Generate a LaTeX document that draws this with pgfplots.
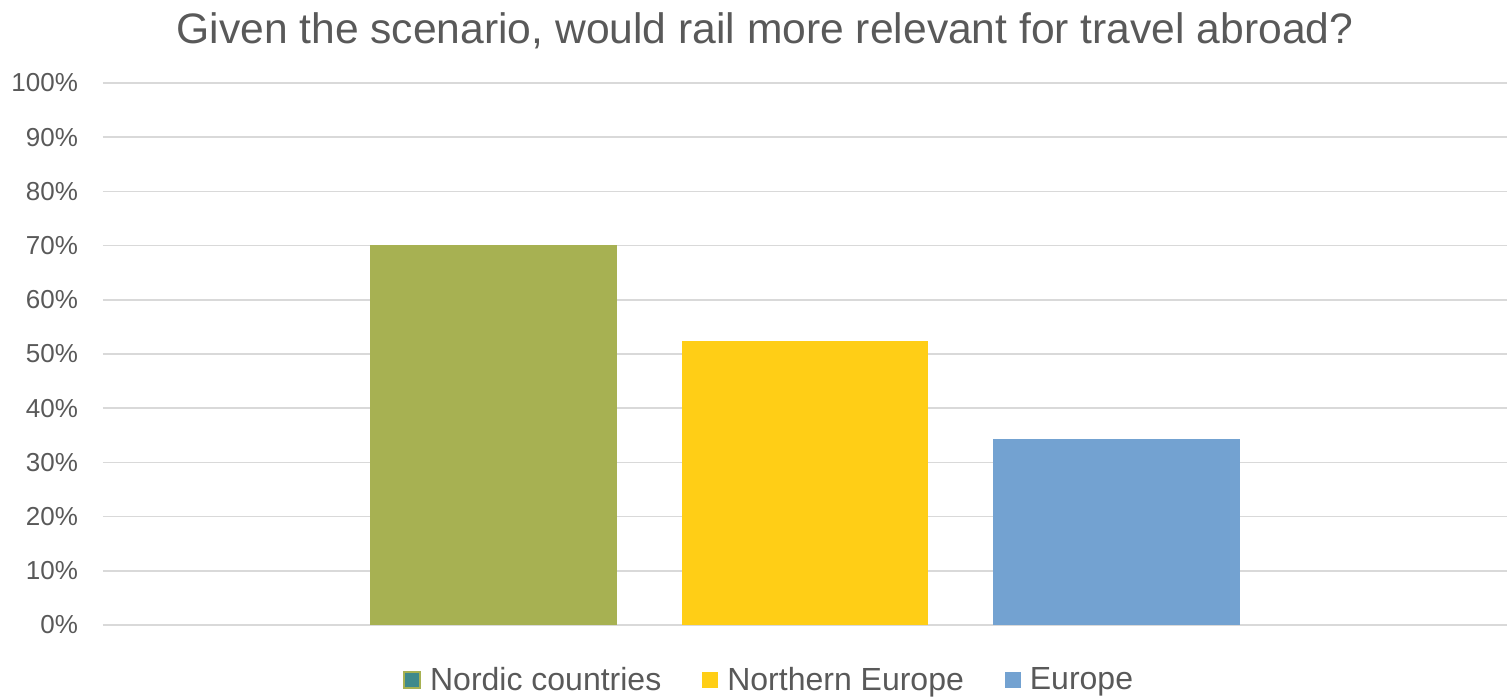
\documentclass[border=0pt]{standalone}
\usepackage{pgfplots}
\pgfplotsset{compat=1.18}
\usepackage{fontspec}
\setmainfont{Liberation Sans}
\definecolor{txt}{HTML}{595959}
\definecolor{grd}{HTML}{D9D9D9}
\definecolor{olivebar}{HTML}{A7B152}
\definecolor{yel}{HTML}{FFCE16}
\definecolor{blu}{HTML}{73A2D1}
\definecolor{tealmark}{HTML}{3F8A8C}
\begin{document}
\begin{tikzpicture}
\useasboundingbox (0,0) rectangle (756pt,350pt);
\begin{axis}[
  at={(51.5pt,37.5pt)}, anchor=south west,
  scale only axis, width=702pt, height=271pt,
  xmin=-2.257, xmax=2.257, ymin=0, ymax=100,
  axis line style={draw=none},
  ytick={0,10,...,100}, xtick=\empty,
  ymajorgrids, grid style={grd, line width=0.75pt},
  major tick length=0pt,
  yticklabel={\pgfmathprintnumber{\tick}\%},
  /pgf/number format/assume math mode=true,
  yticklabel style={font=\fontsize{13}{15}\selectfont, text=txt, xshift=-9pt},
  title={Given the scenario, would rail more relevant for travel abroad?},
  title style={at={(0.4715,1.075)}, anchor=center, font=\fontsize{21.3}{25}\selectfont, text=txt},
  legend image code/.code={\path[#1] (0pt,-4pt) rectangle (8pt,4pt);},
  legend style={at={(0.475,-0.1015)}, anchor=center, draw=none, fill=none,
    legend columns=3, font=\fontsize{16}{19}\selectfont, text=txt,
    /tikz/every odd column/.append style={column sep=2.5pt},
    /tikz/every even column/.append style={column sep=18.5pt}},
]
\addplot[ybar, bar width=0.794, fill=olivebar, draw=none, forget plot] coordinates {(-1,70.1)};
\addplot[ybar, bar width=0.794, fill=yel, draw=none, forget plot] coordinates {(0,52.4)};
\addplot[ybar, bar width=0.794, fill=blu, draw=none, forget plot] coordinates {(1,34.3)};
\addlegendimage{fill=tealmark, draw=olivebar, line width=1.2pt}
\addlegendentry{Nordic countries}
\addlegendimage{fill=yel, draw=none}
\addlegendentry{Northern Europe}
\addlegendimage{fill=blu, draw=none}
\addlegendentry{Europe}
\end{axis}
\end{tikzpicture}
\end{document}
